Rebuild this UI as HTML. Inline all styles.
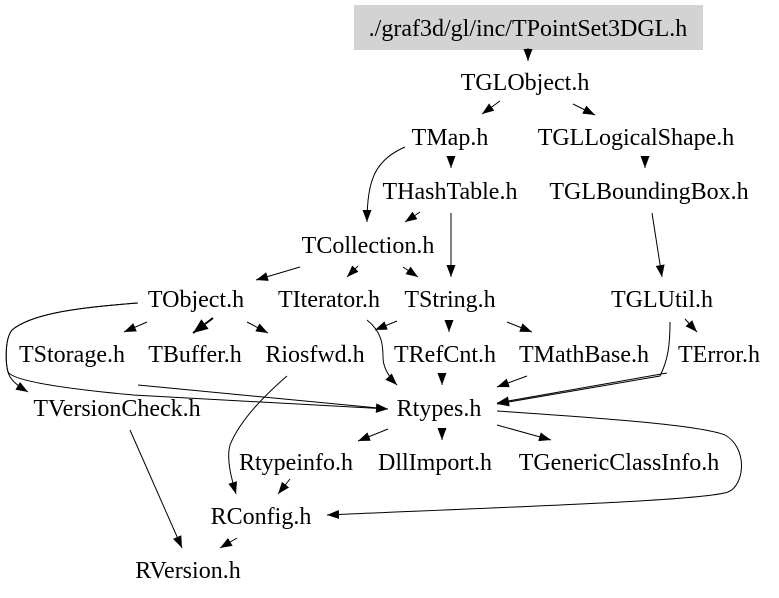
<!DOCTYPE html>
<html><head><meta charset="utf-8"><style>
html,body{margin:0;padding:0;background:#fff;}
svg{display:block;}
text{font-family:"Liberation Serif","Times New Roman",serif;font-size:24px;fill:#000;}
</style></head><body>
<svg width="779" height="598" viewBox="0 0 779 598" xmlns="http://www.w3.org/2000/svg">
<defs>
<marker id="a" markerUnits="userSpaceOnUse" markerWidth="14" markerHeight="10" refX="12" refY="4.5" orient="auto"><path d="M0,0 L12,4.5 L0,9 z" fill="#000"/></marker>
<marker id="b" markerUnits="userSpaceOnUse" markerWidth="18" markerHeight="14" refX="15" refY="6" orient="auto"><path d="M0,0 L15,6 L0,12 z" fill="#000"/></marker>
</defs>
<rect x="354" y="5" width="349" height="45" fill="#d3d3d3"/>
<g fill="none" stroke="#000" stroke-width="1" marker-end="url(#a)">
<path d="M528,48 L528,61"/>
<path d="M500,101 L482,114"/>
<path d="M573,104 L595,115"/>
<path d="M405,147 C375,160 367,180 367,222"/>
<path d="M451,156 L451,168"/>
<path d="M645,156 L645,168"/>
<path d="M420,212 L405,222"/>
<path d="M451,213 L451,277"/>
<path d="M652,213 L662,277"/>
<path d="M300,267 L256,280"/>
<path d="M358,266 L347,277"/>
<path d="M403,267 L418,277"/>
<path d="M147,322 L124,332"/>
<path d="M247,322 L268,333"/>
<path d="M138,303 C70,308 30,315 12,330 C4,340 6,365 8,372 C10,380 18,386 28,392"/>
<path d="M138,303 C70,308 30,315 12,330 C4,340 6,365 8,372 Q15,384 133,395 L388,409"/>
<path d="M138,385 L388,409"/>
<path d="M367,320 C382,332 383,345 383,357 C383,368 390,378 397,385"/>
<path d="M397,321 L375,330"/>
<path d="M449,320 L449,332"/>
<path d="M507,322 L532,332"/>
<path d="M442,373 L442,385"/>
<path d="M527,376 L497,387"/>
<path d="M670,322 C670,345 668,360 660,376 L497,404"/>
<path d="M667,373 L497,403"/>
<path d="M685,319 L697,332"/>
<path d="M287,376 C265,395 240,420 230,445 C226,460 232,480 236,494"/>
<path d="M290,479 L278,494"/>
<path d="M388,429 L358,441"/>
<path d="M442,428 L442,440"/>
<path d="M497,425 L551,440"/>
<path d="M497,411 C600,418 700,425 725,435 C748,448 745,485 728,492 C705,500 560,505 327,515"/>
<path d="M130,430 L182,548"/>
<path d="M237,538 L220,548"/>
</g>
<path d="M213,318 L193,333" fill="none" stroke="#000" stroke-width="2" marker-end="url(#b)"/>
<g text-anchor="middle">
<text x="528" y="36">./graf3d/gl/inc/TPointSet3DGL.h</text>
<text x="525" y="90">TGLObject.h</text>
<text x="450" y="145">TMap.h</text>
<text x="636" y="145">TGLLogicalShape.h</text>
<text x="450" y="199">THashTable.h</text>
<text x="649" y="199">TGLBoundingBox.h</text>
<text x="368" y="253">TCollection.h</text>
<text x="196" y="307">TObject.h</text>
<text x="329" y="307">TIterator.h</text>
<text x="450" y="307">TString.h</text>
<text x="662" y="307">TGLUtil.h</text>
<text x="72" y="362">TStorage.h</text>
<text x="195" y="362">TBuffer.h</text>
<text x="315" y="362">Riosfwd.h</text>
<text x="445" y="362">TRefCnt.h</text>
<text x="584" y="362">TMathBase.h</text>
<text x="719" y="362">TError.h</text>
<text x="117" y="416">TVersionCheck.h</text>
<text x="439" y="416">Rtypes.h</text>
<text x="296" y="470">Rtypeinfo.h</text>
<text x="435" y="470">DllImport.h</text>
<text x="619" y="470">TGenericClassInfo.h</text>
<text x="261" y="524">RConfig.h</text>
<text x="188" y="578">RVersion.h</text>
</g>
</svg>
</body></html>
